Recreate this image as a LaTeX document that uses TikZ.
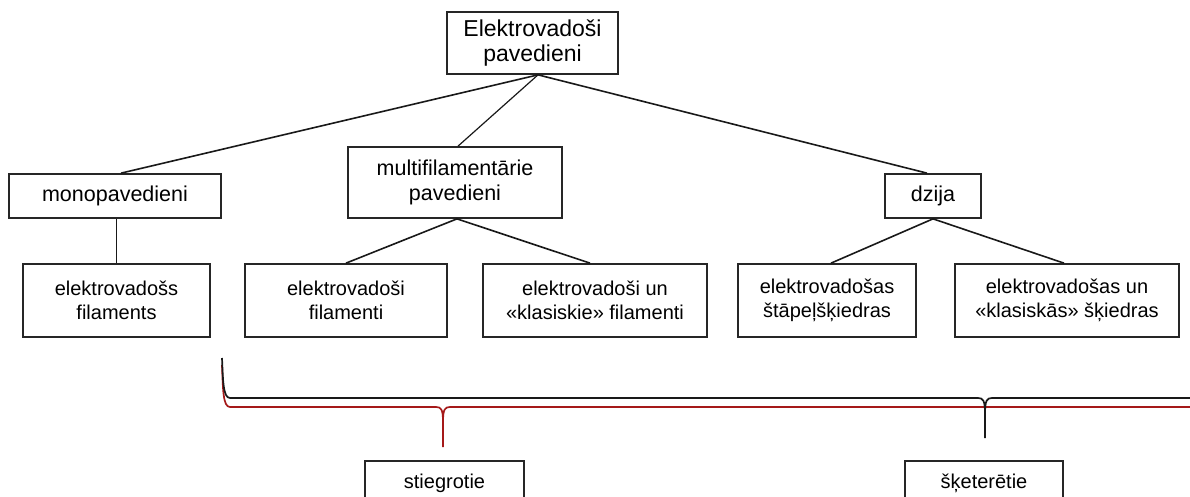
\documentclass[tikz,border=0pt]{standalone}
\usepackage{fontspec}
\setmainfont{Liberation Sans}
\definecolor{bracered}{RGB}{165,25,25}
\begin{document}
\begin{tikzpicture}[x=1pt,y=-1pt,
  box/.style={draw=black!85, line width=1.7pt, rectangle, inner sep=0pt, align=center},
  fbig/.style={font=\fontsize{23}{25}\selectfont},
  fmid/.style={font=\fontsize{21.5}{25}\selectfont},
  fsmall/.style={font=\fontsize{20}{24}\selectfont},
  conn/.style={line width=1.6pt, black!90},
  thinconn/.style={line width=1.2pt, black!90},
  brace/.style={line width=1.7pt, line join=round}
]
\useasboundingbox (0,0) rectangle (1190,497);

\node[box,fbig,minimum width=171pt,minimum height=62pt] (top) at (532.5,43) {Elektrovadoši\\pavedieni};
\node[box,fmid,minimum width=212pt,minimum height=44pt] (mono) at (115,196) {monopavedieni};
\node[box,fmid,minimum width=214pt,minimum height=71pt] (multi) at (455,182.5) {multifilamentārie\\pavedieni};
\node[box,fmid,minimum width=96pt,minimum height=44pt] (dzija) at (933,196) {dzija};

\node[box,fsmall,minimum width=187pt,minimum height=73pt] (ef) at (116.5,300.5) {elektrovadošs\\filaments};
\node[box,fsmall,minimum width=202pt,minimum height=73pt] (evf) at (346,300.5) {elektrovadoši\\filamenti};
\node[box,fsmall,minimum width=224pt,minimum height=73pt] (evkf) at (595,300.5) {elektrovadoši un\\«klasiskie» filamenti};
\node[box,fsmall,minimum width=178pt,minimum height=73pt] (es) at (827,300.5) {elektrovadošas\\štāpeļšķiedras};
\node[box,fsmall,minimum width=224pt,minimum height=73pt] (esk) at (1067,300.5) {elektrovadošas un\\«klasiskās» šķiedras};

\node[box,fsmall,minimum width=159pt,minimum height=44pt] (stieg) at (444.5,483) {stiegrotie};
\node[box,fsmall,minimum width=158pt,minimum height=44pt] (sk) at (984,483) {šķeterētie};

\draw[conn] ([xshift=5.5pt]top.south) -- ([xshift=6pt]mono.north);
\draw[thinconn] ([xshift=5.5pt]top.south) -- ([xshift=3pt]multi.north);
\draw[conn] ([xshift=5.5pt]top.south) -- ([xshift=-6pt]dzija.north);
\draw[thinconn] ([xshift=1.5pt]mono.south) -- (ef.north);
\draw[conn] ([xshift=2pt]multi.south) -- (evf.north);
\draw[conn] ([xshift=2pt]multi.south) -- ([xshift=-5pt]evkf.north);
\draw[conn] (dzija.south) -- ([xshift=4pt]es.north);
\draw[conn] (dzija.south) -- ([xshift=-3pt]esk.north);

% red brace (towards stiegrotie)
\draw[brace,bracered] (222,365) .. controls (223,390) and (223,407) .. (230,407) -- (436,407)
  .. controls (441,407) and (443,409) .. (443,422) -- (443,447);
\draw[brace,bracered] (443,422) .. controls (443,409) and (445,407) .. (450,407) -- (1195,407);
% black brace (towards sketeretie)
\draw[brace,black!90] (222,358) .. controls (223,380) and (223,398) .. (230,398) -- (978,398)
  .. controls (983,398) and (985,400) .. (985,414) -- (985,438);
\draw[brace,black!90] (985,414) .. controls (985,400) and (987,398) .. (992,398) -- (1195,398);
\end{tikzpicture}
\end{document}
